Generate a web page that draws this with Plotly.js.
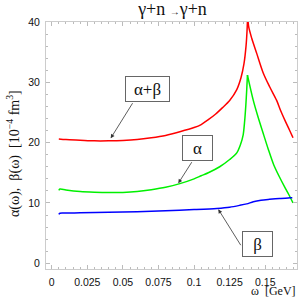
<!DOCTYPE html>
<html>
<head>
<meta charset="utf-8">
<script src="https://cdn.plot.ly/plotly-3.0.1.min.js"></script>
<style>html,body{margin:0;padding:0;background:#fff;}#chart{width:300px;height:297px;}</style>
</head>
<body>
<div id="chart"></div>
<script>
// ---- data (omega in GeV, polarizabilities in 10^-4 fm^3) ----
const omegaSum = [0.005,0.01,0.02,0.03,0.04,0.05,0.06,0.07,0.08,0.09,0.1,0.105,0.11,0.115,0.12,0.125,0.13,0.133,0.135,0.1365,0.1372,0.1377,0.1383,0.1405,0.144,0.1485,0.153,0.158,0.161,0.164,0.167,0.1695];
const sumVals  = [20.6,20.5,20.4,20.3,20.3,20.35,20.5,20.8,21.2,21.8,22.5,23.0,23.8,24.7,25.8,27.0,28.8,30.8,33.0,36.0,38.5,41.5,39.3,37.3,34.8,31.6,29.3,27.0,25.2,23.6,22.1,20.8];

const omegaAlpha = [0.005,0.0058,0.01,0.02,0.03,0.04,0.05,0.06,0.07,0.08,0.09,0.1,0.105,0.11,0.118,0.125,0.13,0.1325,0.1345,0.1355,0.1363,0.137,0.1375,0.1416,0.145,0.1486,0.152,0.156,0.16,0.1635,0.1665,0.1695];
const alphaVals  = [12.1,12.3,12.15,11.9,11.78,11.72,11.75,11.9,12.2,12.6,13.2,14.0,14.5,15.0,16.0,17.2,18.3,19.6,21.3,23.5,26.0,28.8,31.2,27.0,24.2,21.5,19.0,16.3,14.3,12.7,11.4,10.0];

const omegaBeta = [0.005,0.0058,0.01,0.02,0.04,0.06,0.08,0.1,0.116,0.125,0.132,0.137,0.1416,0.147,0.153,0.16,0.1673,0.169];
const betaVals  = [8.1,8.3,8.32,8.37,8.45,8.55,8.7,8.9,9.1,9.3,9.6,9.85,10.2,10.45,10.6,10.75,10.85,10.87];

const xTickVals = [0,0.025,0.05,0.075,0.1,0.125,0.15];
const xTickText = ["0","0.025","0.05","0.075","0.1","0.125","0.15"];
const yTickVals = [0,10,20,30,40];
const yTickText = ["0","10","20","30","40"];

const labelSum = "α+β", labelAlpha = "α", labelBeta = "β";

// ---- layout helpers (pixel -> paper) ----
const L = 46, T = 22, W = 251, H = 247;
const px = x => (x - L) / W;
const py = y => (T + H - y) / H;

const serif = "Liberation Serif, DejaVu Serif, serif";
const sans = "Liberation Sans, Arial, sans-serif";

// each curve is drawn as two smooth branches meeting at its cusp (the maximum)
function branches(xs, ys, color, splitAtMax) {
  const style = {color: color, width: 1.5, shape: "spline", smoothing: 0.8};
  if (!splitAtMax) return [{x: xs, y: ys, mode: "lines", line: style, hoverinfo: "skip"}];
  let k = 0;
  ys.forEach((v, i) => { if (v > ys[k]) k = i; });
  return [
    {x: xs.slice(0, k + 1), y: ys.slice(0, k + 1), mode: "lines", line: style, hoverinfo: "skip"},
    {x: xs.slice(k), y: ys.slice(k), mode: "lines", line: style, hoverinfo: "skip"}
  ];
}

const traces = [].concat(
  branches(omegaSum, sumVals, "#ff0000", true),
  branches(omegaAlpha, alphaVals, "#00f000", true),
  branches(omegaBeta, betaVals, "#0000ff", false)
);

function box(text, cx, cy, w, h) {
  return {xref: "paper", yref: "paper", x: px(cx), y: py(cy), xanchor: "center", yanchor: "middle",
    text: text, showarrow: false, width: w, height: h, bgcolor: "#fff", bordercolor: "#666",
    borderwidth: 1, borderpad: 0, font: {family: serif, size: 17, color: "#111"}};
}
function arrow(hx, hy, tx, ty) {
  return {xref: "paper", yref: "paper", x: px(hx), y: py(hy), ax: tx - hx, ay: ty - hy,
    axref: "pixel", ayref: "pixel", text: "", showarrow: true, arrowhead: 2, arrowsize: 1,
    arrowwidth: 0.8, arrowcolor: "#333", standoff: 0};
}

const layout = {
  width: 300, height: 297,
  margin: {l: L, r: 300 - L - W, t: T, b: 297 - T - H},
  paper_bgcolor: "#fff", plot_bgcolor: "#fff",
  showlegend: false,
  title: {text: "γ+n <span style='font-size:10px'>→</span>γ+n", font: {family: serif, size: 18, color: "#111"},
    x: 172.5 / 300, xref: "container", xanchor: "center", y: 1 - 9 / 297, yref: "container", yanchor: "middle"},
  xaxis: {range: [-0.004, 0.1723], tickvals: xTickVals, ticktext: xTickText, ticks: "inside", ticklen: 4,
    tickcolor: "#bbb", tickwidth: 1, showline: true, linecolor: "#ccc", linewidth: 1, mirror: "allticks",
    showgrid: false, zeroline: false, tickfont: {family: sans, size: 10.5, color: "#111"},
    ticklabelstandoff: 3,
    minor: {dtick: 0.005, tick0: 0, ticks: "inside", ticklen: 2, tickcolor: "#bbb", showgrid: false}},
  yaxis: {range: [-0.95, 40], tickvals: yTickVals, ticktext: yTickText, ticks: "inside", ticklen: 4,
    tickcolor: "#bbb", tickwidth: 1, showline: true, linecolor: "#ccc", linewidth: 1, mirror: "allticks",
    showgrid: false, zeroline: false, tickfont: {family: sans, size: 10.5, color: "#111"},
    ticklabelstandoff: 3,
    minor: {dtick: 2, tick0: 0, ticks: "inside", ticklen: 2, tickcolor: "#bbb", showgrid: false}},
  annotations: [
    box(labelSum, 147.7, 89, 43, 24),
    box(labelAlpha, 197, 148, 29, 24),
    box(labelBeta, 257.2, 243.7, 29, 24),
    arrow(110.7, 138.3, 133.5, 101.7),
    arrow(178.3, 183.3, 192.7, 160.7),
    arrow(218.3, 209.3, 241.7, 246.7),
    {xref: "paper", yref: "paper", x: px(14), y: py(154), xanchor: "center", yanchor: "middle",
      textangle: -90, showarrow: false, font: {family: serif, size: 14, color: "#111"},
      text: "α(ω),  β(ω)  [10<sup>−4</sup> fm<sup>3</sup>]"},
    {xref: "paper", yref: "paper", x: px(298), y: py(291), xanchor: "right", yanchor: "middle",
      showarrow: false, font: {family: serif, size: 12, color: "#111"},
      text: "ω  [GeV]"}
  ]
};

Plotly.newPlot("chart", traces, layout, {staticPlot: true, displayModeBar: false});
</script>
</body>
</html>
